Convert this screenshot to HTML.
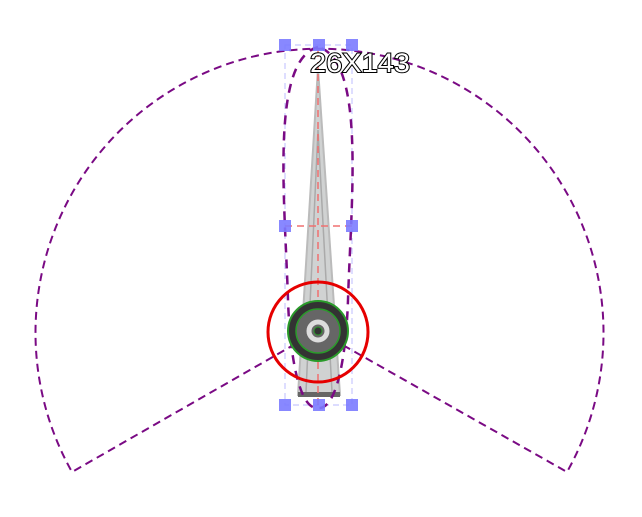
<!DOCTYPE html>
<html><head><meta charset="utf-8"><style>html,body{margin:0;padding:0;background:#fff}svg{display:block}</style></head>
<body>
<svg width="642" height="517" viewBox="0 0 642 517" xmlns="http://www.w3.org/2000/svg">
<path d="M318,331 L72,472 A284,284 0 1 1 567,472 Z" fill="none" stroke="#7a0a84" stroke-width="2" stroke-dasharray="8,5"/>
<rect x="285" y="45" width="67" height="360" fill="none" stroke="#c8c8ff" stroke-width="1.2" stroke-dasharray="6,4"/>
<path d="M318,68 L298,395 L340,395 Z" fill="#d0d2d2" stroke="#bbb" stroke-width="2"/>
<path d="M318,130 L306,392 M318,130 L332,392" stroke="#aaa" stroke-width="1.5" fill="none"/>
<rect x="298" y="392" width="42" height="5" fill="#666"/>
<path d="M318,47 C270,60 285,200 288,300 C290,360 300,410 318,408 C336,410 346,360 348,300 C351,200 366,60 318,47 Z" fill="none" stroke="#7a0a84" stroke-width="2.5" stroke-dasharray="9,7"/>
<line x1="318" y1="50" x2="318" y2="405" stroke="#f07070" stroke-width="1.5" stroke-dasharray="7,5"/>
<line x1="285" y1="226" x2="352" y2="226" stroke="#f07070" stroke-width="1.5" stroke-dasharray="7,5"/>
<circle cx="318" cy="331" r="30" fill="#333" stroke="#2a9a2a" stroke-width="2"/>
<circle cx="318" cy="331" r="22" fill="#666" stroke="#2a9a2a" stroke-width="1.5"/>
<circle cx="318" cy="331" r="9" fill="none" stroke="#ddd" stroke-width="5"/>
<circle cx="318" cy="331" r="4" fill="#333" stroke="#2a9a2a" stroke-width="1"/>
<circle cx="318" cy="332" r="50" fill="none" stroke="#e60000" stroke-width="3"/>
<g fill="#7b7bff" fill-opacity="0.9">
<rect x="279" y="39" width="12" height="12"/>
<rect x="313" y="39" width="12" height="12"/>
<rect x="346" y="39" width="12" height="12"/>
<rect x="279" y="220" width="12" height="12"/>
<rect x="346" y="220" width="12" height="12"/>
<rect x="279" y="399" width="12" height="12"/>
<rect x="313" y="399" width="12" height="12"/>
<rect x="346" y="399" width="12" height="12"/>
</g>
<text x="310" y="72" font-family="Liberation Sans, sans-serif" font-size="27" fill="#fff" stroke="#000" stroke-width="2" paint-order="stroke" textLength="100" lengthAdjust="spacingAndGlyphs">26X143</text>
</svg>
</body></html>
